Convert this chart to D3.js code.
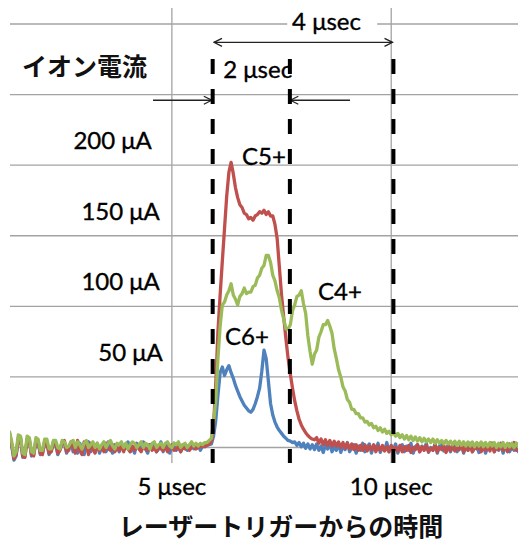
<!DOCTYPE html>
<html><head><meta charset="utf-8">
<script src="https://cdn.jsdelivr.net/npm/d3@7"></script>
<style>html,body{margin:0;padding:0;background:#fff;} svg{display:block;}</style>
</head><body>
<svg id="chart" width="518" height="546"></svg>
<script>
// ---- data ----
const timeUs = [
1.3,1.35,1.4,1.45,1.5,1.55,1.6,1.65,1.7,1.75,
1.8,1.85,1.9,1.95,2,2.05,2.1,2.15,2.2,2.25,
2.3,2.35,2.4,2.45,2.5,2.55,2.6,2.65,2.7,2.75,
2.8,2.85,2.9,2.95,3,3.05,3.1,3.15,3.2,3.25,
3.3,3.35,3.4,3.45,3.5,3.55,3.6,3.65,3.7,3.75,
3.8,3.85,3.9,3.95,4,4.05,4.1,4.15,4.2,4.25,
4.3,4.35,4.4,4.45,4.5,4.55,4.6,4.65,4.7,4.75,
4.8,4.85,4.9,4.95,5,5.05,5.1,5.15,5.2,5.25,
5.3,5.35,5.4,5.45,5.5,5.55,5.6,5.65,5.7,5.75,
5.8,5.85,5.9,5.95,6,6.05,6.1,6.15,6.2,6.25,
6.3,6.35,6.4,6.45,6.5,6.55,6.6,6.65,6.7,6.75,
6.8,6.85,6.9,6.95,7,7.05,7.1,7.15,7.2,7.25,
7.3,7.35,7.4,7.45,7.5,7.55,7.6,7.65,7.7,7.75,
7.8,7.85,7.9,7.95,8,8.05,8.1,8.15,8.2,8.25,
8.3,8.35,8.4,8.45,8.5,8.55,8.6,8.65,8.7,8.75,
8.8,8.85,8.9,8.95,9,9.05,9.1,9.15,9.2,9.25,
9.3,9.35,9.4,9.45,9.5,9.55,9.6,9.65,9.7,9.75,
9.8,9.85,9.9,9.95,10,10.05,10.1,10.15,10.2,10.25,
10.3,10.35,10.4,10.45,10.5,10.55,10.6,10.65,10.7,10.75,
10.8,10.85,10.9,10.95,11,11.05,11.1,11.15,11.2,11.25,
11.3,11.35,11.4,11.45,11.5,11.55,11.6,11.65,11.7,11.75,
11.8,11.85,11.9,11.95,12,12.05,12.1,12.15,12.2,12.25,
12.3,12.35,12.4,12.45,12.5,12.55,12.6,12.65,12.7,12.75,
12.8,12.85,12.9];

// C6+ (blue), μA
const c6Values = [
10,1,-9,-6,6,7,-7,-6,5,6,
-6,-5,4,5,-5,-4,3,4,-5,-2,
4,2,-5,-1,4,3,-4,0,3,-3,
2,-4,3,0,-5,2,4,-3,1,-2,
3,-4,0,2,-3,4,-1,-4,2,0,
-3,3,-2,1,4,-3,0,-4,3,1,
-2,4,-1,-4,2,0,3,-3,-1,4,
-3,1,2,-4,0,3,-2,1,-3,2,
0,-2,1,3,-1,0,2,-2,1,0.5,
1.5,2,2.5,8,19,37,53,57,51,55,
58,53,49,44,40,36,33,30,28,26,
25,27,31,36,42,54,69,63,47,31,
23,18,14.5,12,10,8,6.5,5,4.5,3.5,
4,1.5,3.5,0.5,3,-0.5,2.5,-1,2,-1.5,
2.5,-2,1,-3.5,2,-1,3,-3,0.5,-2,
3,-3.5,1,-1.5,3.5,-3,-0.5,2,-4,1,
-2,3,-3,0,2.5,-4,1.5,-1,3,-3.5,
0.5,-2,3.5,-3,1,-1.5,2.5,-4,0,2,
-3,1,-2,3,-4,0.5,2,-3,1,-1.5,
3,-3.5,0,-2,2.5,-4,1,3,-2.5,-1,
2,-3,0.5,3.5,-3,-1,2,-4,1,-2,
3,-3,-0.5,2,-3.5,1,2.5,-4,0,-1.5,
3,-3,1,-2,2.5,-4,0.5,2,-3,1,
-2,3,-3];

// C5+ (red), μA
const c5Values = [
9,2,-8,-5,7,6,-6,-7,6,5,
-5,-6,5,4,-4,-5,4,3,-4,-3,
3,4,-4,-2,3,5,-3,-2,4,1,
-4,5,-2,-5,4,2,-5,3,-1,-4,
2,-2,1,-3,3,-1,-2,2,-3,0,
-2,1,-3,2,-1,-3,1,-2,2,-1,
-3,1,-1,-2,2,-2,0,-3,1,-1,
-2,1,-3,0,2,-2,-1,1,-3,0,
-1,1,-2,0,1,-1,0,1,0.5,1,
1.5,2.5,4,15,45,82,108,132,155,178,
195,202,194,184,177,172,170,166,165,162,
163,161,164,165,167,166,168,165,167,164,
164,158,148,128,108,92,77,63,52,42,
33,26,20,16,13,10.5,8.5,7,6,5.5,
7,3,6,2,5.5,1.5,5,1,4.5,1,
4,0,3.5,-0.5,3,-1,2.5,-1.5,2,-2,
1.5,-2,2,-2.5,1,-1.5,2,-3,1,-2,
1.5,-2.5,0.5,-3,1.5,-2,0,-2.5,1.5,-3,
0.5,-2,1.5,-3.5,0,-1.5,2,-3,0.5,-2,
1.5,-3,-0.5,-2,2,-3,0,-1.5,1.5,-3.5,
0.5,-2,2,-2.5,-0.5,-1.5,2.5,-3,0,-2,
2,-3,0.5,-1,2.5,-3,-0.5,-2,2,-2.5,
3,-3,0.5,-1.5,3,-2,1,-3,2.5,-1,
3.5,-2,2];

// C4+ (green), μA
const c4Values = [
11,4,-6,-3,9,8,-4,-5,8,7,
-3,-4,7,6,-2,-2,6,6,-1,-1,
5,5,0,-1,5,4,0,1,4,5,
0,4,2,-1,3,5,0,2,4,0,
3,-1,2,4,0,3,5,1,-1,3,
2,4,0,3,-1,2,4,3,0,2,
4,0,3,2,-1,3,4,0,2,3,
0,3,4,1,0,3,2,4,0,2,
3,0,2,4,1,3,1,3,2,3.5,
3.5,5,6.5,18,33,63,86,101,103,108,
111,116,108,105,101,107,109,113,109,110,
110,114,115,120,122,127,129,136,136,131,
122,118,111,106,97,91,84,84,87,97,
101,107,108,111,102,95,79,68,59,66,
69,78,82,87,87,90,86,81,70,63,
55,50,43,40,34,32,27,27,24,24,
21,21,18,18.5,16,17,14,15,12,14,
11,13,10,11.5,9,10.5,8,10,7,9,
6,8.5,5.5,8,5,7.5,4.5,7,4,6.5,
4,6,3.5,6,3,5.5,3,5,2.5,5,
2.5,4.5,2,4.5,1.5,4.5,1.5,4,1,4,
1,4,0.5,3.5,1,4,0.5,3.5,0.5,3.5,
1,3.5,0,3,0.5,3.5,0,3,0.5,3,
0,3,0.5];

const gridValues = [0,50,100,150,200,250,300];
const yTickValues = [50,100,150,200];
const yTickLabels = ["50 μA","100 μA","150 μA","200 μA"];
const xTickValues = [5,10];
const xTickLabels = ["5 μsec","10 μsec"];
const markerTimes = [5.93,7.69,10.05];
const seriesNames = ["C6+","C5+","C4+"];
const yTitle = "イオン電流";
const xTitle = "レーザートリガーからの時間";

// ---- drawing ----
const svg = d3.select("#chart");
svg.append("rect").attr("width",518).attr("height",546).attr("fill","#fff");
const x = d3.scaleLinear().domain([1.31,12.89]).range([10,518]);
const y = d3.scaleLinear().domain([0,300]).range([447.5,24]);
const NUM = "Lato, 'Open Sans', sans-serif";
const JP = "'Noto Sans CJK JP', sans-serif";
function numText(sel){
  return sel.attr("font-family",NUM).attr("font-size",24).attr("fill","#000")
    .attr("stroke","#000").attr("stroke-width",0.35);
}

// gridlines
svg.append("g").selectAll("line").data(gridValues).join("line")
  .attr("x1",x.range()[0]).attr("x2",x.range()[1])
  .attr("y1",d=>y(d)).attr("y2",d=>y(d))
  .attr("stroke","#a3a3a3").attr("stroke-width",1.3);
svg.append("g").selectAll("line").data(xTickValues).join("line")
  .attr("x1",d=>x(d)).attr("x2",d=>x(d))
  .attr("y1",8).attr("y2",463)
  .attr("stroke","#a3a3a3").attr("stroke-width",1.3);

// white box behind "4 μsec"
svg.append("rect").attr("x",x(7.63)).attr("y",12).attr("width",x(9.68)-x(7.63)).attr("height",22).attr("fill","#fff");

// series
svg.append("defs").append("clipPath").attr("id","plotclip")
  .append("rect").attr("x",10).attr("y",0).attr("width",508).attr("height",546);
const line = d3.line().x((d,i)=>x(timeUs[i])).y(d=>y(d));
const n = Math.min(timeUs.length,c6Values.length,c5Values.length,c4Values.length);
const series = [
  {vals:c6Values.slice(0,n), color:"#4F81BD"},
  {vals:c5Values.slice(0,n), color:"#C0504D"},
  {vals:c4Values.slice(0,n), color:"#9BBB59"}
];
const gl = svg.append("g").attr("clip-path","url(#plotclip)");
series.forEach(s=>{
  gl.append("path").attr("d",line(s.vals)).attr("fill","none")
    .attr("stroke",s.color).attr("stroke-width",3.3)
    .attr("stroke-linejoin","round").attr("stroke-linecap","round");
});

// y labels
const nudge = {50:3,100:0,150:0,200:-8};
numText(svg.append("g").selectAll("text").data(yTickValues).join("text")
  .attr("x",d=>x(5)-12+nudge[d]).attr("y",d=>y(d)-16)
  .attr("text-anchor","end"))
  .text((d,i)=>yTickLabels[i]);
// x labels
numText(svg.append("g").selectAll("text").data(xTickValues).join("text")
  .attr("x",d=>x(d)).attr("y",495)
  .attr("text-anchor","middle"))
  .text((d,i)=>xTickLabels[i]);

// titles
svg.append("text").attr("x",22).attr("y",76).attr("font-family",JP).attr("font-weight",700)
  .attr("font-size",25).attr("fill","#111").text(yTitle);
svg.append("text").attr("x",281).attr("y",536).attr("text-anchor","middle").attr("font-family",JP)
  .attr("font-weight",700).attr("font-size",25).attr("fill","#111").text(xTitle);

// peak labels (C6+, C5+, C4+)
const labelAnchors = [[6.21,72.6],[6.60,200],[8.33,104.5]];
numText(svg.append("g").selectAll("text").data(seriesNames).join("text")
  .attr("x",(d,i)=>x(labelAnchors[i][0])).attr("y",(d,i)=>y(labelAnchors[i][1])))
  .text(d=>d);

// annotation texts
numText(svg.append("text").attr("x",x(7.74)).attr("y",y(296))).text("4 μsec");
numText(svg.append("text").attr("x",x(6.17)).attr("y",y(261.7))).text("2 μsec");

// arrows
const defs = svg.select("defs");
defs.append("marker").attr("id","chev").attr("viewBox","0 0 10 10")
  .attr("refX",9).attr("refY",5).attr("markerWidth",10).attr("markerHeight",10)
  .attr("markerUnits","userSpaceOnUse").attr("orient","auto-start-reverse")
  .append("path").attr("d","M1,1 L9,5 L1,9").attr("fill","none").attr("stroke","#222").attr("stroke-width",1.3);
const arrows = [
  {t1:5.96,t2:10.03,v:287,both:true},
  {t1:4.57,t2:5.91,v:246,both:false},
  {t1:9.06,t2:7.70,v:246,both:false}
];
arrows.forEach(a=>{
  const l = svg.append("line").attr("x1",x(a.t1)).attr("x2",x(a.t2)).attr("y1",y(a.v)).attr("y2",y(a.v))
    .attr("stroke","#222").attr("stroke-width",1.3).attr("marker-end","url(#chev)");
  if(a.both) l.attr("marker-start","url(#chev)");
});

// dashed markers
svg.append("g").selectAll("line").data(markerTimes).join("line")
  .attr("x1",d=>x(d)).attr("x2",d=>x(d)).attr("y1",59).attr("y2",463)
  .attr("stroke","#000").attr("stroke-width",4).attr("stroke-dasharray","15,15");
</script>
</body></html>
